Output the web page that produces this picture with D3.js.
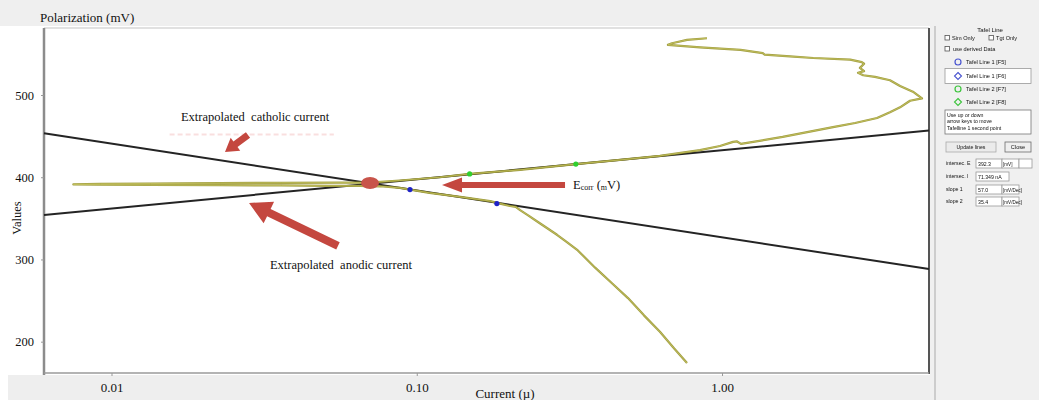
<!DOCTYPE html>
<html>
<head>
<meta charset="utf-8">
<script src="https://cdn.jsdelivr.net/npm/d3@7"></script>
<style>
  body { margin: 0; background: #ffffff; }
  svg { display: block; }
  text { font-family: "Liberation Serif", "Times New Roman", serif; fill: #111; }
  .ui text { font-family: "Liberation Sans", Arial, sans-serif; }
</style>
</head>
<body>
<svg id="chart" width="1039" height="400"></svg>
<script>
// ---- axis ticks ----
const xTicks = [0.01, 0.1, 1];
const xTickLabels = ["0.01", "0.10", "1.00"];
const yTicks = [200, 300, 400, 500];

// ---- polarization scan, in scan order: [current (µA), potential (mV)] ----
const polarizationScan = [
  [0.768, 174], [0.696, 192], [0.626, 212], [0.555, 232], [0.492, 253],
  [0.436, 271], [0.384, 290], [0.337, 311], [0.308, 322], [0.288, 330],
  [0.253, 344], [0.231, 354], [0.218, 360], [0.211, 364], [0.202, 365],
  [0.192, 367], [0.174, 371], [0.139, 376], [0.110, 381], [0.088, 387],
  [0.076, 389], [0.065, 389.5], [0.052, 389.5], [0.036, 390], [0.0227, 390.3],
  [0.0134, 390.6], [0.0092, 390.9], [0.0075, 391.3], [0.0092, 391.9], [0.0134, 392.3],
  [0.0227, 392.8], [0.036, 393.2], [0.056, 393.4], [0.070, 393.5], [0.088, 396],
  [0.119, 400], [0.149, 404], [0.218, 409], [0.332, 416], [0.463, 421],
  [0.626, 426], [0.847, 433], [0.985, 438], [1.087, 443], [1.12, 443.5],
  [1.154, 440.5], [1.58, 449], [2.31, 461], [2.73, 466], [3.22, 472],
  [3.55, 479], [3.83, 485], [4.13, 493], [4.52, 496], [4.22, 504],
  [3.83, 511], [3.55, 518], [3.17, 522], [2.90, 524], [2.79, 527],
  [2.92, 529], [2.83, 533], [2.92, 538], [2.87, 540], [2.63, 543],
  [1.99, 545], [1.67, 547], [1.38, 549], [1.36, 551], [1.15, 555],
  [0.847, 558], [0.665, 561], [0.686, 563], [0.768, 567], [0.893, 569]
];

// ---- Tafel extrapolation lines (end points) ----
const anodicTafel = [[0.00601, 354.2], [4.765, 456.9]];
const cathodicTafel = [[0.00601, 453.6], [4.765, 288.3]];

// fit points chosen on each branch
const anodicFitPoints = [[0.149, 404], [0.332, 416]];
const cathodicFitPoints = [[0.095, 385], [0.183, 368]];

// corrosion point (intersection of the Tafel lines)
const corrosionPoint = [0.0703, 393];

// ---- annotation arrows: tail and tip in [current, potential] ----
const cathodicArrow = [[0.0280, 451.4], [0.02354, 430.7]];
const anodicArrow = [[0.0552, 316.4], [0.02822, 368.7]];
const ecorrArrow = [[0.306, 390.5], [0.121, 390.5]];

// annotation anchors
const cathodicLabelAt = [0.01689, 468.4];
const anodicLabelAt = [0.03305, 288.4];
const ecorrLabelAt = [0.325, 386];

// ---- Tafel fit dialog readouts ----
const panelReadouts = [
  { label: "intersec. E", value: "392.3", unit: "[mV]" },
  { label: "intersec. I", value: "71.349 nA", unit: "" },
  { label: "slope 1", value: "57.0", unit: "[mV/Dec]" },
  { label: "slope 2", value: "35.4", unit: "[mV/Dec]" }
];

const svg = d3.select("#chart");
const W = 1039, H = 400;
const plot = { left: 44, right: 929, top: 28, bottom: 373 };

const x = d3.scaleLog().domain([0.00601, 4.765]).range([plot.left, plot.right]);
const y = d3.scaleLinear().domain([161.9, 581.5]).range([plot.bottom, plot.top]);

// ---- window backgrounds ----
svg.append("rect").attr("x", 0).attr("y", 0).attr("width", W).attr("height", H).attr("fill", "#ffffff");
svg.append("rect").attr("x", 0).attr("y", 0).attr("width", W).attr("height", 26).attr("fill", "#efefef");
svg.append("rect").attr("x", 8).attr("y", 375).attr("width", 925).attr("height", 25).attr("fill", "#eeeeee");

// plot area
svg.append("rect")
  .attr("x", plot.left).attr("y", plot.top)
  .attr("width", plot.right - plot.left).attr("height", plot.bottom - plot.top)
  .attr("fill", "#ffffff");

// faint pink streak under the cathodic label
svg.append("line")
  .attr("x1", x(0.0155)).attr("x2", x(0.0535))
  .attr("y1", y(452)).attr("y2", y(452))
  .attr("stroke", "#f3b9b9").attr("stroke-width", 2)
  .attr("stroke-dasharray", "5,3").attr("opacity", 0.45);

// frame
svg.append("line").attr("x1", plot.left).attr("x2", plot.right).attr("y1", plot.top).attr("y2", plot.top)
  .attr("stroke", "#c4c4c4").attr("stroke-width", 1.2);
svg.append("line").attr("x1", plot.right).attr("x2", plot.right).attr("y1", plot.top).attr("y2", plot.bottom + 1)
  .attr("stroke", "#555555").attr("stroke-width", 2);

// ---- axes ----
const yAxis = svg.append("g")
  .attr("transform", `translate(${plot.left},0)`)
  .call(d3.axisLeft(y).tickValues(yTicks).tickSize(3).tickPadding(7).tickFormat(d3.format("d")));
yAxis.select(".domain").attr("stroke", "#8c8c8c").attr("stroke-width", 2.5)
  .attr("d", `M0,${plot.top}V${plot.bottom + 2}`);
yAxis.selectAll(".tick line").attr("stroke", "#999");
yAxis.selectAll(".tick text")
  .style("font-family", '"Liberation Serif", serif').style("font-size", "12.5px").attr("fill", "#111");

const xAxis = svg.append("g")
  .attr("transform", `translate(0,${plot.bottom})`)
  .call(d3.axisBottom(x).tickValues(xTicks).tickSize(3).tickPadding(7)
    .tickFormat((d, i) => xTickLabels[i]));
xAxis.select(".domain").attr("stroke", "#9a9a9a").attr("stroke-width", 1.5)
  .attr("d", `M${plot.left},0H${plot.right}`);
xAxis.selectAll(".tick line").attr("stroke", "#999");
xAxis.selectAll(".tick text")
  .style("font-family", '"Liberation Serif", serif').style("font-size", "13px").attr("fill", "#111");

// axis titles
svg.append("text").attr("x", 40).attr("y", 21.5).style("font-size", "13px").text("Polarization (mV)");
svg.append("text")
  .attr("transform", `translate(17,218) rotate(-90)`)
  .attr("text-anchor", "middle").attr("dominant-baseline", "central")
  .style("font-size", "12.5px").text("Values");
svg.append("text").attr("x", 505).attr("y", 398).attr("text-anchor", "middle")
  .style("font-size", "13px").text("Current (µ)");

// ---- data layers ----
const line = d3.line().x(d => x(d[0])).y(d => y(d[1]));

const g = svg.append("g");

// Tafel lines
[anodicTafel, cathodicTafel].forEach(seg => {
  g.append("path").attr("d", line(seg))
    .attr("fill", "none").attr("stroke", "#242424").attr("stroke-width", 2);
});

// polarization curve: olive outline with a lighter core
g.append("path").attr("d", line(polarizationScan))
  .attr("fill", "none").attr("stroke", "#97942f").attr("stroke-width", 2.2)
  .attr("stroke-linejoin", "round").attr("opacity", 0.9);
g.append("path").attr("d", line(polarizationScan))
  .attr("fill", "none").attr("stroke", "#c2bf5c").attr("stroke-width", 0.9)
  .attr("stroke-linejoin", "round");

// fit points
g.selectAll(".fitA").data(anodicFitPoints).join("circle")
  .attr("cx", d => x(d[0])).attr("cy", d => y(d[1])).attr("r", 2.6).attr("fill", "#2fcf2f");
g.selectAll(".fitC").data(cathodicFitPoints).join("circle")
  .attr("cx", d => x(d[0])).attr("cy", d => y(d[1])).attr("r", 2.6).attr("fill", "#1e22c8");

// corrosion point
g.append("ellipse")
  .attr("cx", x(corrosionPoint[0])).attr("cy", y(corrosionPoint[1]))
  .attr("rx", 9).attr("ry", 6).attr("fill", "#c8544a");

// ---- annotation arrows ----
function arrowPoints(seg, shaft, headW, headL) {
  const [x0, y0] = [x(seg[0][0]), y(seg[0][1])];
  const [x1, y1] = [x(seg[1][0]), y(seg[1][1])];
  const len = Math.hypot(x1 - x0, y1 - y0);
  const ux = (x1 - x0) / len, uy = (y1 - y0) / len;
  const nx = -uy, ny = ux;
  const bx = x1 - ux * headL, by = y1 - uy * headL;
  const pts = [
    [x0 + nx * shaft / 2, y0 + ny * shaft / 2],
    [bx + nx * shaft / 2, by + ny * shaft / 2],
    [bx + nx * headW / 2, by + ny * headW / 2],
    [x1, y1],
    [bx - nx * headW / 2, by - ny * headW / 2],
    [bx - nx * shaft / 2, by - ny * shaft / 2],
    [x0 - nx * shaft / 2, y0 - ny * shaft / 2]
  ];
  return pts.map(p => p.join(",")).join(" ");
}
const arrowColor = "#c4473f";
svg.append("polygon").attr("points", arrowPoints(cathodicArrow, 7, 16, 13)).attr("fill", arrowColor);
svg.append("polygon").attr("points", arrowPoints(anodicArrow, 8, 24, 22)).attr("fill", arrowColor);
svg.append("polygon").attr("points", arrowPoints(ecorrArrow, 6, 15, 20)).attr("fill", arrowColor);

// ---- annotation labels ----
svg.append("text").attr("x", x(cathodicLabelAt[0])).attr("y", y(cathodicLabelAt[1]))
  .style("font-size", "12.5px").style("white-space", "pre").text("Extrapolated  catholic current");
svg.append("text").attr("x", x(anodicLabelAt[0])).attr("y", y(anodicLabelAt[1]))
  .style("font-size", "12.5px").style("white-space", "pre").text("Extrapolated  anodic current");

const ecorrText = svg.append("text").attr("x", x(ecorrLabelAt[0])).attr("y", y(ecorrLabelAt[1]))
  .style("font-size", "12.5px").style("white-space", "pre");
ecorrText.append("tspan").text("E");
ecorrText.append("tspan").style("font-size", "8px").attr("dy", 1.5).text("corr");
ecorrText.append("tspan").attr("dy", -1.5).text(" (");
ecorrText.append("tspan").style("font-size", "8px").attr("dy", 1.5).text("m");
ecorrText.append("tspan").attr("dy", -1.5).text("V)");

// ---- Tafel fit dialog panel ----
const defs = svg.append("defs");
defs.append("filter").attr("id", "soft")
  .append("feGaussianBlur").attr("stdDeviation", 0.35);

const ui = svg.append("g").attr("class", "ui");
ui.append("rect").attr("x", 930).attr("y", 0).attr("width", 109).attr("height", H).attr("fill", "#f0f0f0");
ui.append("line").attr("x1", 935).attr("x2", 935).attr("y1", 26).attr("y2", H)
  .attr("stroke", "#c2c2c2").attr("stroke-width", 1.5);

const pg = ui.append("g").attr("filter", "url(#soft)");
const uiText = (tx, ty, s, opts = {}) => pg.append("text")
  .attr("x", tx).attr("y", ty).attr("text-anchor", opts.anchor || "start")
  .style("font-size", (opts.size || 5.6) + "px").attr("fill", opts.fill || "#3a3a4a").text(s);
const box = (bx, by, bw, bh, fill = "#ffffff", stroke = "#9a9a9a") => pg.append("rect")
  .attr("x", bx).attr("y", by).attr("width", bw).attr("height", bh)
  .attr("fill", fill).attr("stroke", stroke).attr("stroke-width", 0.8);

uiText(990, 32, "Tafel Line", { anchor: "middle", fill: "#3247b0", size: 6 });
box(945, 35.5, 4.5, 4.5, "#fff", "#555");
uiText(952, 40, "Sim Only", { fill: "#a9b3c8" });
box(989, 35.5, 4.5, 4.5, "#fff", "#555");
uiText(996, 40, "Tgt Only", { fill: "#a9b3c8" });
box(945, 46.5, 4.5, 4.5, "#fff", "#555");
uiText(953, 51, "use derived Data", { fill: "#a9b3c8" });

pg.append("circle").attr("cx", 958).attr("cy", 62).attr("r", 3).attr("fill", "none")
  .attr("stroke", "#4a55d0").attr("stroke-width", 1.2);
uiText(966, 64, "Tafel Line 1 [F5]");
box(945, 68.5, 86, 15);
pg.append("path").attr("d", "M958,72.5 L961.5,76 L958,79.5 L954.5,76 Z").attr("fill", "none")
  .attr("stroke", "#4a55d0").attr("stroke-width", 1.1);
uiText(966, 78, "Tafel Line 1 [F6]");
pg.append("circle").attr("cx", 958).attr("cy", 89).attr("r", 3).attr("fill", "none")
  .attr("stroke", "#3cc43c").attr("stroke-width", 1.2);
uiText(966, 91, "Tafel Line 2 [F7]");
pg.append("path").attr("d", "M958,98.5 L961.5,102 L958,105.5 L954.5,102 Z").attr("fill", "none")
  .attr("stroke", "#3cc43c").attr("stroke-width", 1.1);
uiText(966, 104, "Tafel Line 2 [F8]");

box(945, 110, 86, 24, "#ffffff", "#777");
uiText(947, 116.5, "Use up or down", { size: 5.2 });
uiText(947, 123, "arrow keys to move", { size: 5.2 });
uiText(947, 129.5, "Tafelline 1 second point", { size: 5.2 });

box(946, 142, 50, 10, "#ebebeb", "#aaaaaa");
uiText(971, 149, "Update lines", { anchor: "middle", fill: "#a0a0a8", size: 5.2 });
box(1005, 142, 26, 10, "#efefef", "#6d6d6d");
uiText(1018, 149, "Close", { anchor: "middle", size: 5.6 });

panelReadouts.forEach((r, i) => {
  const ry = [163, 176, 189, 201][i];
  uiText(946, ry + 2, r.label, { size: 5.2 });
  box(976, ry - 4, r.unit ? 26 : 33, 9);
  uiText(978, ry + 2.5, r.value, { size: 5.2 });
  if (r.unit) {
    box(1002, ry - 4, 17, 9);
    uiText(1003, ry + 2.5, r.unit, { size: 4.6 });
  }
  if (i === 0) box(1019, ry - 4, 13, 9);
});
</script>
</body>
</html>
